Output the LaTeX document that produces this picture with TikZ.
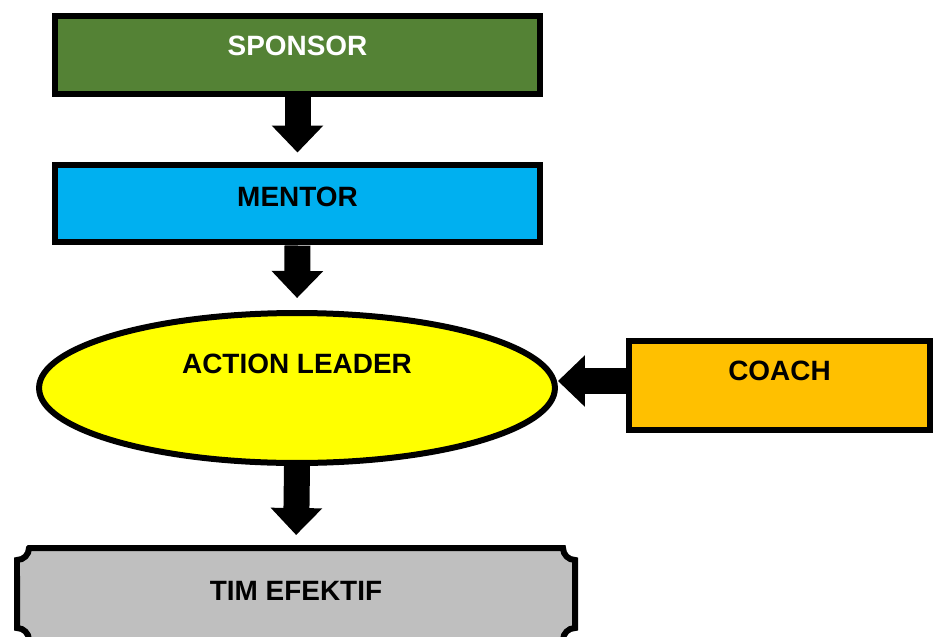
\documentclass[tikz,border=0pt]{standalone}
\usepackage{fontspec}
\setmainfont{Liberation Sans}
\usetikzlibrary{arrows.meta,shapes.geometric}

\definecolor{sponsorgreen}{HTML}{548235}
\definecolor{mentorblue}{HTML}{00B0F0}
\definecolor{leaderyellow}{HTML}{FFFF00}
\definecolor{coachorange}{HTML}{FFC000}
\definecolor{timgray}{HTML}{BFBFBF}

\begin{document}
\begin{tikzpicture}[x=0.02cm, y=-0.02cm,
  every node/.style={font=\fontsize{15.9}{19}\selectfont\bfseries, text height=0.4cm},
  box/.style={draw, line width=0.12cm, rectangle, minimum width=9.7cm, minimum height=1.56cm},
  fatarrow/.style={line width=0.52cm, -{Triangle[width=1.0cm, length=0.54cm]}}]

\useasboundingbox (0,0) rectangle (933,636);
\clip (0,0) rectangle (933,636);

% Boxes
\node[box, fill=sponsorgreen, text=white, text depth=0.4cm] (sponsor) at (297.5,55) {SPONSOR};
\node[box, fill=mentorblue, text depth=0.3cm] (mentor) at (297.5,203.5) {MENTOR};
\node[draw, line width=0.12cm, ellipse, fill=leaderyellow, minimum width=10.32cm, minimum height=3cm,
      text depth=1.0cm] (leader) at (297,388) {ACTION LEADER};
\node[box, fill=coachorange, minimum width=6.02cm, minimum height=1.78cm,
      text depth=0.62cm] (coach) at (779.5,385.5) {COACH};

% Plaque for the team
\filldraw[fill=timgray, line width=0.12cm]
  (29,548) -- (563,548) arc[start angle=180, end angle=270, radius=0.24cm]
  -- (575,628) arc[start angle=90, end angle=180, radius=0.24cm]
  -- (29,640) arc[start angle=0, end angle=90, radius=0.24cm]
  -- (17,560) arc[start angle=270, end angle=360, radius=0.24cm] -- cycle;
\node[rectangle, minimum width=11.16cm, minimum height=1.84cm, outer sep=0.06cm,
      text depth=0.16cm] (tim) at (296,594) {TIM EFEKTIF};

% Arrows
\draw[fatarrow, shorten >=0.18cm] (sponsor.south) -- (mentor.north);
\draw[fatarrow, shorten >=0.24cm] (mentor.south) -- (leader.north);
\draw[fatarrow, shorten >=0.2cm] (leader.south) -- (tim.north);
\draw[fatarrow] ([yshift=0.09cm]coach.west) -- ([yshift=0.09cm]coach.west -| leader.east);

\end{tikzpicture}
\end{document}
